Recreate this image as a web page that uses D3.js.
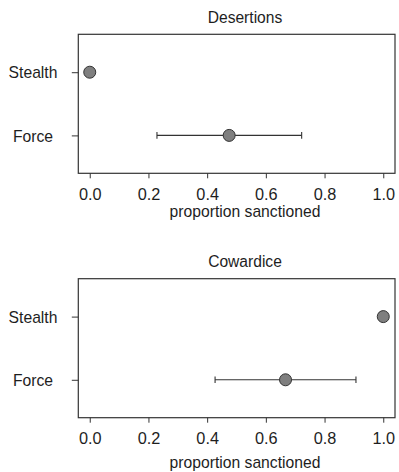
<!DOCTYPE html>
<html><head><meta charset="utf-8">
<script src="https://cdn.jsdelivr.net/npm/d3@7"></script>
<style>body{margin:0;background:#fff}svg{display:block}text{font-family:"Liberation Sans",Arial,sans-serif;fill:#1e1e1e}</style>
</head><body><svg id="c" width="399" height="472"></svg>
<script>
const panels = ["Desertions", "Cowardice"];
const categories = ["Force", "Stealth"];
const means = [[0.475, 0.0], [0.667, 1.0]];
const lowers = [[0.229, null], [0.427, null]];
const uppers = [[0.722, null], [0.907, null]];
const xTicks = [0, 0.2, 0.4, 0.6, 0.8, 1.0];

const svg = d3.select("#c");
const layout = [
  {top: 34.3, bottom: 173.3, title: 23.3, tickBase: 200.3, labBase: 216.7},
  {top: 278.7, bottom: 417.7, title: 266.7, tickBase: 444.3, labBase: 467.7}
];
const L = 78.3, R = 395;
const x = d3.scaleLinear().domain([-0.039, 1.04]).range([L, R]);

panels.forEach((name, pi) => {
  const lay = layout[pi];
  const y = d3.scaleLinear().domain([0.4, 2.6]).range([lay.bottom, lay.top]);
  const g = svg.append("g");
  g.append("rect").attr("x", L).attr("y", lay.top).attr("width", R - L).attr("height", lay.bottom - lay.top)
    .attr("fill", "none").attr("stroke", "#333").attr("stroke-width", 1.2);
  g.append("text").attr("x", 245).attr("y", lay.title).attr("text-anchor", "middle")
    .style("font-size", "15.6px").text(name);
  const xa = g.append("g").attr("transform", `translate(0,${lay.bottom})`)
    .call(d3.axisBottom(x).tickValues(xTicks).tickFormat(d3.format(".1f")).tickSize(5).tickPadding(0));
  xa.select(".domain").remove();
  xa.selectAll(".tick line").attr("stroke", "#333");
  xa.selectAll(".tick text").attr("dy", null).attr("y", lay.tickBase - lay.bottom)
    .style("font-size", "16.3px").attr("fill", "#1e1e1e");
  g.append("text").attr("x", 245).attr("y", lay.labBase).attr("text-anchor", "middle")
    .style("font-size", "15.7px").text("proportion sanctioned");
  const ya = g.append("g").attr("transform", `translate(${L},0)`)
    .call(d3.axisLeft(y).tickValues([1, 2]).tickFormat(d => categories[d - 1]).tickSize(6.5).tickPadding(0));
  ya.select(".domain").remove();
  ya.selectAll(".tick line").attr("stroke", "#333");
  ya.selectAll(".tick text").attr("text-anchor", "middle").attr("x", 33 - L).attr("dy", "0.36em")
    .style("font-size", "15.7px").attr("fill", "#1e1e1e");
  categories.forEach((c, ci) => {
    const lo = lowers[pi][ci], hi = uppers[pi][ci];
    const yy = y(ci + 1);
    if (lo != null) {
      g.append("line").attr("x1", x(lo)).attr("x2", x(hi)).attr("y1", yy).attr("y2", yy)
        .attr("stroke", "#333").attr("stroke-width", 1.1);
      [lo, hi].forEach(v => g.append("line").attr("x1", x(v)).attr("x2", x(v))
        .attr("y1", yy - 3.3).attr("y2", yy + 3.3).attr("stroke", "#333").attr("stroke-width", 1.1));
    }
    g.append("circle").attr("cx", x(means[pi][ci])).attr("cy", yy).attr("r", 6)
      .attr("fill", "#7f7f7f").attr("stroke", "#333").attr("stroke-width", 1);
  });
});
</script></body></html>
